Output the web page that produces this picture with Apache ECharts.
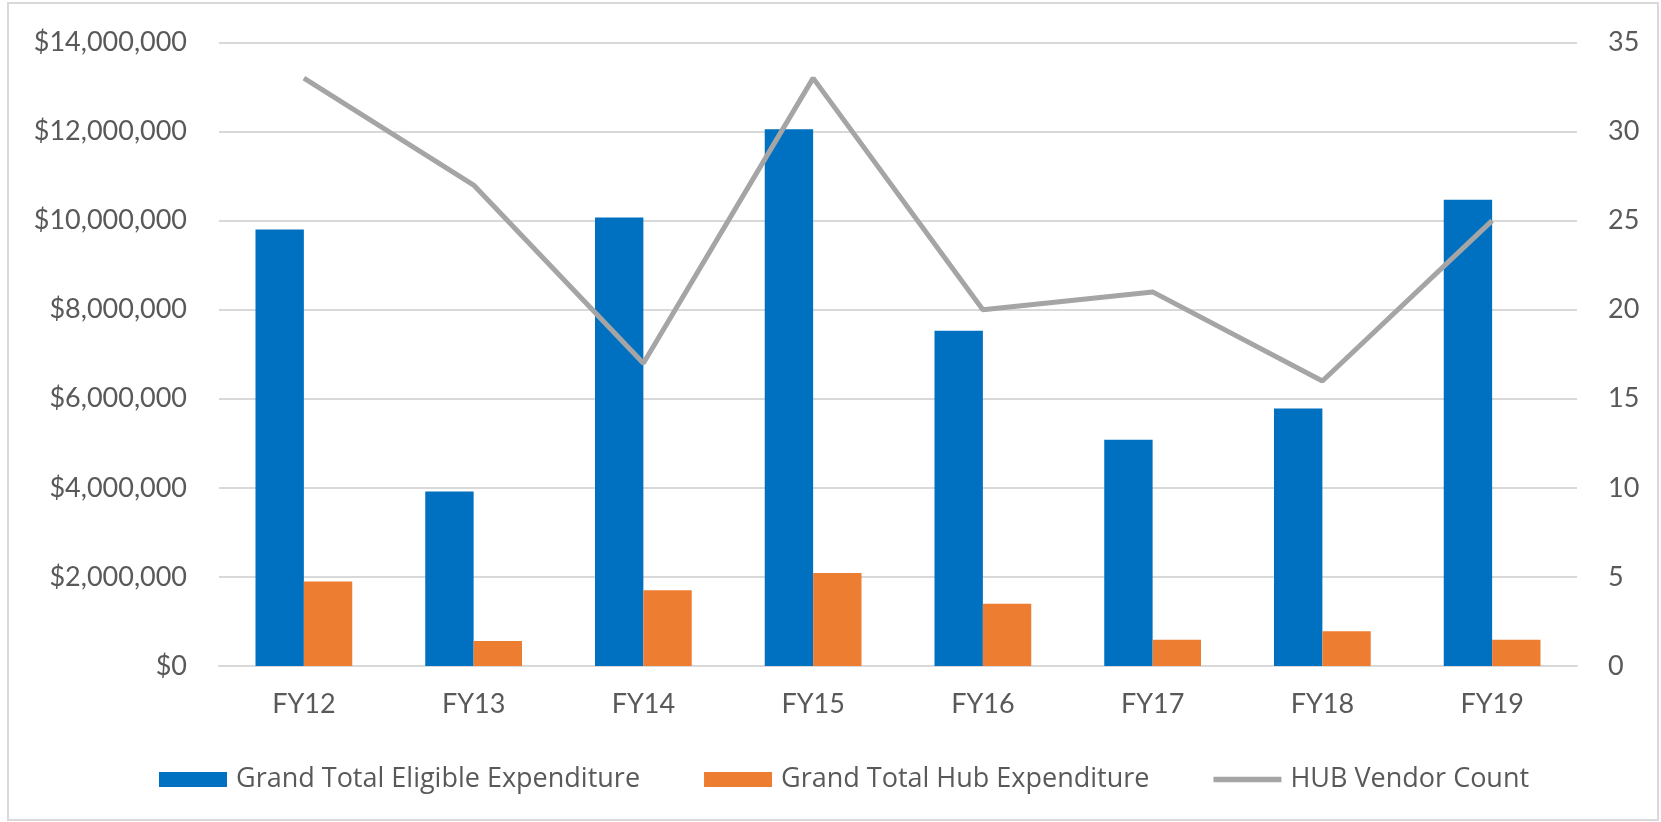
<!DOCTYPE html>
<html>
<head>
<meta charset="utf-8">
<script src="https://cdn.jsdelivr.net/npm/echarts@6/dist/echarts.min.js"></script>
<style>
  html, body { margin: 0; padding: 0; background: #fff; }
  #chart { width: 1661px; height: 822px; }
</style>
</head>
<body>
<div id="chart"></div>
<script>
// categories and series
const years = ['FY12', 'FY13', 'FY14', 'FY15', 'FY16', 'FY17', 'FY18', 'FY19'];
const eligibleSpend = [9800000, 3920000, 10070000, 12050000, 7530000, 5080000, 5780000, 10470000];
const hubSpend = [1900000, 560000, 1700000, 2090000, 1400000, 590000, 780000, 590000];
const vendorCount = [33, 27, 17, 33, 20, 21, 16, 25];

const textColor = '#595959';
const gridColor = '#d9d9d9';
const font = 'Lato';

function money(v) {
  return '$' + Number(v).toLocaleString('en-US');
}

let chart = echarts.init(document.getElementById('chart'));

chart.setOption({
  animation: false,
  textStyle: { fontFamily: font },
  graphic: [
    {
      type: 'rect',
      shape: { x: 8, y: 3, width: 1650, height: 817 },
      style: { fill: 'none', stroke: gridColor, lineWidth: 2 },
      silent: true
    }
  ],
  grid: { left: 219, right: 84, top: 42.5, bottom: 156 },
  legend: {
    left: 154,
    top: 761,
    itemWidth: 68,
    itemHeight: 15,
    itemGap: 64,
    textStyle: { color: textColor, fontSize: 27, fontFamily: 'Open Sans', padding: [0, 0, 0, 4] },
    data: [
      { name: 'Grand Total Eligible Expenditure', icon: 'rect' },
      { name: 'Grand Total Hub Expenditure', icon: 'rect' },
      { name: 'HUB Vendor Count', icon: 'path://M0,0H72V6H0Z' }
    ]
  },
  xAxis: {
    type: 'category',
    data: years,
    axisLine: { lineStyle: { color: gridColor, width: 2 } },
    axisTick: { show: false },
    axisLabel: { color: textColor, fontSize: 27, margin: 25 }
  },
  yAxis: [
    {
      type: 'value',
      min: 0,
      max: 14000000,
      interval: 2000000,
      axisLabel: { color: textColor, fontSize: 27, margin: 32, formatter: money },
      splitLine: { lineStyle: { color: gridColor, width: 2 } }
    },
    {
      type: 'value',
      min: 0,
      max: 35,
      interval: 5,
      axisLabel: { color: textColor, fontSize: 27, margin: 31 },
      splitLine: { show: false }
    }
  ],
  series: [
    {
      name: 'Grand Total Eligible Expenditure',
      type: 'bar',
      data: eligibleSpend,
      barGap: '0%',
      barCategoryGap: '43%',
      itemStyle: { color: '#0070c0' }
    },
    {
      name: 'Grand Total Hub Expenditure',
      type: 'bar',
      data: hubSpend,
      itemStyle: { color: '#ed7d31' }
    },
    {
      name: 'HUB Vendor Count',
      type: 'line',
      yAxisIndex: 1,
      data: vendorCount,
      symbol: 'none',
      lineStyle: { color: '#a5a5a5', width: 5 },
      itemStyle: { color: '#a5a5a5' }
    }
  ]
});
</script>
</body>
</html>
